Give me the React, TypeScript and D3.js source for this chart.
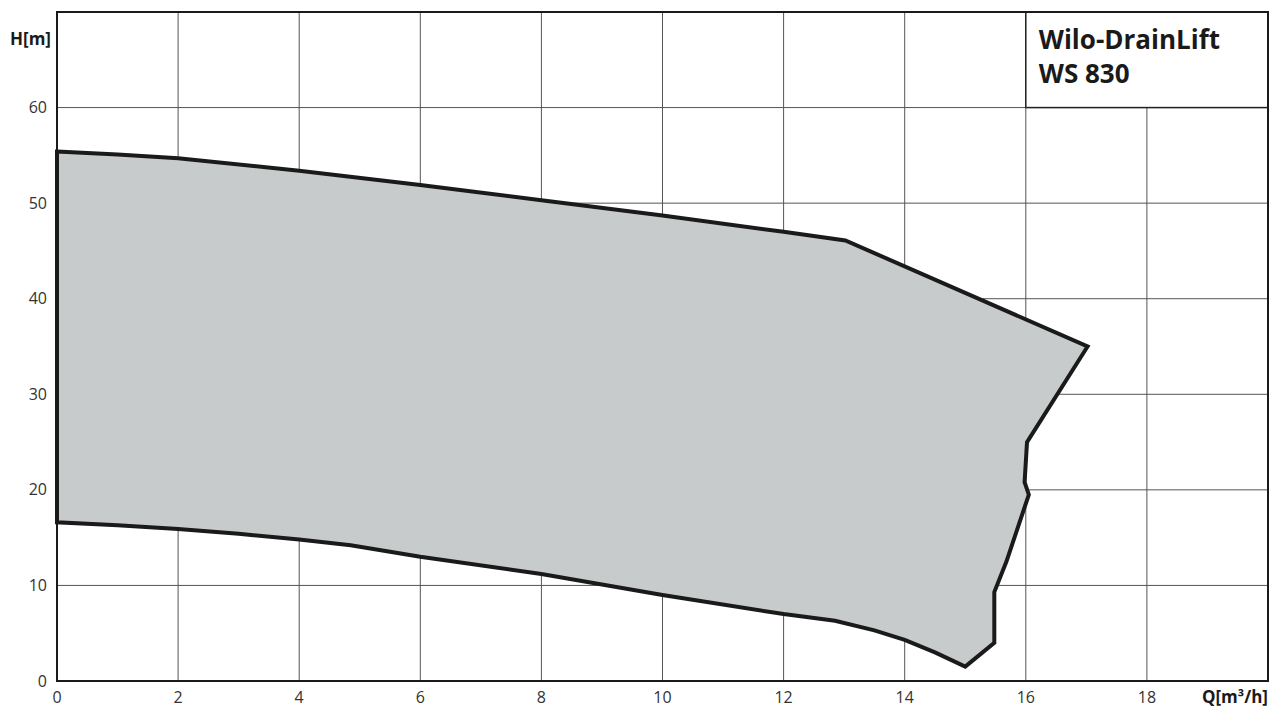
import React from "react";
import * as d3 from "d3";

const xTicks = [0, 2, 4, 6, 8, 10, 12, 14, 16, 18];
const yTicks = [0, 10, 20, 30, 40, 50, 60];

// Envelope outline: upper edge left->right, right edge downwards, lower edge right->left
const envelopeQ = [0, 1, 2, 4, 6, 8, 10, 12, 13.02, 17.02, 16.02, 15.98, 16.05, 15.68, 15.48, 15.48, 15.0, 14.5, 14.0, 13.5, 12.85, 12, 10, 8, 6, 4.85, 4, 3, 2, 1, 0];
const envelopeH = [55.4, 55.1, 54.7, 53.4, 51.9, 50.3, 48.7, 47.0, 46.1, 35.0, 25.0, 20.8, 19.5, 12.5, 9.3, 4.0, 1.5, 3.0, 4.3, 5.3, 6.3, 7.0, 9.0, 11.2, 13.0, 14.2, 14.8, 15.4, 15.9, 16.3, 16.6];

const titleLines = ["Wilo-DrainLift", "WS 830"];

export default function App() {
  const W = 1270, H = 709;
  const left = 57, right = 1268, top = 12, bottom = 681;
  const x = d3.scaleLinear().domain([0, 20]).range([left, right]);
  const y = d3.scaleLinear().domain([0, 70]).range([bottom, top]);
  const pts: [number, number][] = envelopeQ.map((q, i) => [q, envelopeH[i]]);
  const line = d3.line<[number, number]>().x(d => x(d[0])).y(d => y(d[1])).curve(d3.curveLinearClosed);
  const font = "'Open Sans', 'Noto Sans', sans-serif";
  return (
    <svg width={W} height={H} style={{ position: "absolute", left: 0, top: 0, background: "#fff" }}>
      <rect x={0} y={0} width={W} height={H} fill="#fff" />
      {xTicks.filter(t => t > 0).map(t => (
        <line key={"gx" + t} x1={x(t)} x2={x(t)} y1={top} y2={bottom} stroke="#555" strokeWidth={1} />
      ))}
      {yTicks.filter(t => t > 0).map(t => (
        <line key={"gy" + t} x1={left} x2={right} y1={y(t)} y2={y(t)} stroke="#555" strokeWidth={1} />
      ))}
      <path d={line(pts) || ""} fill="#c8cbcc" stroke="#1a1a1a" strokeWidth={4} strokeLinejoin="miter" />
      <rect x={x(16)} y={y(70)} width={x(20) - x(16)} height={y(60) - y(70)} fill="#fff" stroke="#222" strokeWidth={1.5} />
      {titleLines.map((t, i) => (
        <text key={t} x={x(16) + 13} y={y(70) + 37 + i * 34} fontFamily={font} fontWeight={700} fontSize={26} fill="#1a1a1a">{t}</text>
      ))}
      <rect x={left} y={top} width={right - left} height={bottom - top} fill="none" stroke="#1a1a1a" strokeWidth={2} />
      {xTicks.map(t => (
        <text key={"tx" + t} x={x(t)} y={703} textAnchor="middle" fontFamily={font} fontSize={16} fill="#333">{t}</text>
      ))}
      {yTicks.map(t => (
        <text key={"ty" + t} x={47} y={y(t)} dy="0.35em" textAnchor="end" fontFamily={font} fontSize={16} fill="#333">{t}</text>
      ))}
      <text x={51} y={45} textAnchor="end" fontFamily={font} fontWeight={700} fontSize={17} fill="#1a1a1a">H[m]</text>
      <text x={1268} y={703} textAnchor="end" fontFamily={font} fontWeight={700} fontSize={17} fill="#1a1a1a">Q[m³/h]</text>
    </svg>
  );
}
